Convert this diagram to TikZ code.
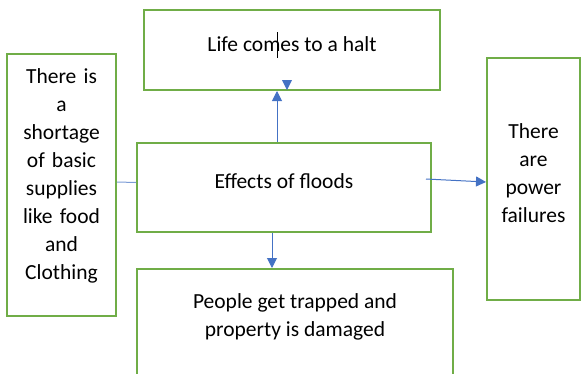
\documentclass[tikz,border=0pt]{standalone}
\usepackage{fontspec}
\setmainfont{Carlito}
\usetikzlibrary{arrows.meta}
\definecolor{boxgreen}{HTML}{70AD47}
\definecolor{flowblue}{HTML}{4472C4}
\tikzset{
  box/.style={draw=boxgreen, line width=2pt, rectangle, align=center, inner sep=2pt,
    font=\fontsize{21.5}{28}\selectfont, text=black},
  flow/.style={draw=flowblue, line width=1pt, -{Triangle[length=10pt,width=10pt]}},
  link/.style={draw=flowblue!70, line width=1pt}
}
\newcommand{\liftup}[2]{\raisebox{#1}[\height][\depth]{#2}}
\begin{document}
\begin{tikzpicture}[x=1pt,y=-1pt]
\useasboundingbox (0,0) rectangle (582,373);
\clip (0,0) rectangle (582,373);
\node[box, minimum width=296pt, minimum height=80pt] (halt) at (292,50) {\liftup{6pt}{Life comes to a halt}};
\node[box, minimum width=294pt, minimum height=89pt] (effects) at (284,187.5) {\liftup{6pt}{Effects of floods}};
\node[box, minimum width=109pt, minimum height=262pt, text width=100pt] (supplies) at (61.5,185) {\liftup{9pt}{\parbox{100pt}{\centering There is\\ a\\ shortage\\ of basic\\ supplies\\ like food\\ and\\ Clothing}}};
\node[box, minimum width=93pt, minimum height=242pt, text width=85pt] (power) at (533.5,179) {\liftup{6pt}{\parbox{85pt}{\centering There\\ are\\ power\\ failures}}};
\node[box, minimum width=316pt, minimum height=110pt] (trapped) at (295,324) {\liftup{7pt}{\parbox{300pt}{\centering People get trapped and\\ property is damaged}}};

\draw[flow] ([xshift=-7pt]effects.north) -- ([xshift=-15pt]halt.south);
\fill[flowblue] (282,80) -- (292,80) -- (287,90) -- cycle;
\draw[black, line width=0.8pt] (277,32) -- (277,58);
\draw[flow] ([xshift=-6pt,yshift=8.5pt]effects.east) -- ([yshift=-3pt]power.west);
\draw[link] ([yshift=5pt]effects.west) -- ([yshift=3pt]supplies.east);
\draw[flow] ([xshift=-12pt]effects.south) -- ([xshift=-23pt]trapped.north);
\end{tikzpicture}
\end{document}
